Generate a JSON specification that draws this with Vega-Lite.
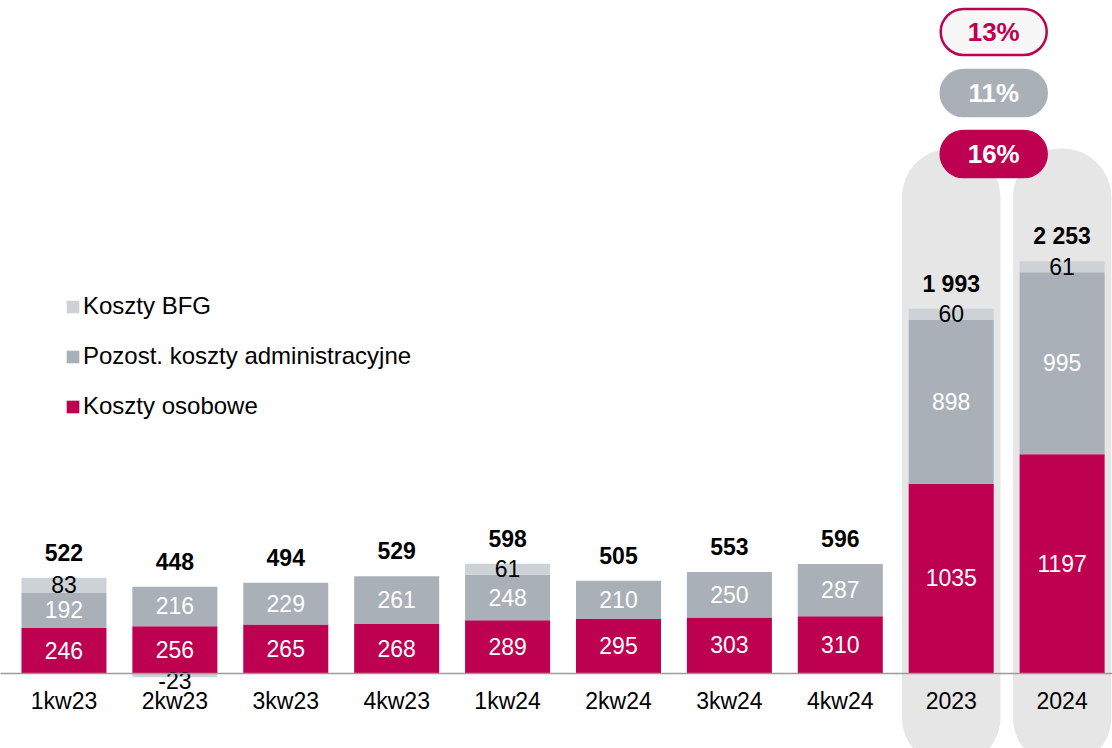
{
  "$schema": "https://vega.github.io/schema/vega-lite/v6.json",
  "width": 1112,
  "height": 673,
  "autosize": {"type": "none"},
  "padding": {"top": 0, "left": 0, "right": 0, "bottom": 75},
  "background": "white",
  "config": {"font": "Liberation Sans", "view": {"stroke": null}},
  "datasets": {
    "koszty": [
      {"cat": "1kw23", "seria": "Koszty osobowe", "ord": 1, "value": 246},
      {"cat": "1kw23", "seria": "Pozost. koszty administracyjne", "ord": 2, "value": 192},
      {"cat": "1kw23", "seria": "Koszty BFG", "ord": 3, "value": 83},
      {"cat": "2kw23", "seria": "Koszty osobowe", "ord": 1, "value": 256},
      {"cat": "2kw23", "seria": "Pozost. koszty administracyjne", "ord": 2, "value": 216},
      {"cat": "2kw23", "seria": "Koszty BFG", "ord": 3, "value": -23},
      {"cat": "3kw23", "seria": "Koszty osobowe", "ord": 1, "value": 265},
      {"cat": "3kw23", "seria": "Pozost. koszty administracyjne", "ord": 2, "value": 229},
      {"cat": "4kw23", "seria": "Koszty osobowe", "ord": 1, "value": 268},
      {"cat": "4kw23", "seria": "Pozost. koszty administracyjne", "ord": 2, "value": 261},
      {"cat": "1kw24", "seria": "Koszty osobowe", "ord": 1, "value": 289},
      {"cat": "1kw24", "seria": "Pozost. koszty administracyjne", "ord": 2, "value": 248},
      {"cat": "1kw24", "seria": "Koszty BFG", "ord": 3, "value": 61},
      {"cat": "2kw24", "seria": "Koszty osobowe", "ord": 1, "value": 295},
      {"cat": "2kw24", "seria": "Pozost. koszty administracyjne", "ord": 2, "value": 210},
      {"cat": "3kw24", "seria": "Koszty osobowe", "ord": 1, "value": 303},
      {"cat": "3kw24", "seria": "Pozost. koszty administracyjne", "ord": 2, "value": 250},
      {"cat": "4kw24", "seria": "Koszty osobowe", "ord": 1, "value": 310},
      {"cat": "4kw24", "seria": "Pozost. koszty administracyjne", "ord": 2, "value": 287},
      {"cat": "2023", "seria": "Koszty osobowe", "ord": 1, "value": 1035},
      {"cat": "2023", "seria": "Pozost. koszty administracyjne", "ord": 2, "value": 898},
      {"cat": "2023", "seria": "Koszty BFG", "ord": 3, "value": 60},
      {"cat": "2024", "seria": "Koszty osobowe", "ord": 1, "value": 1197},
      {"cat": "2024", "seria": "Pozost. koszty administracyjne", "ord": 2, "value": 995},
      {"cat": "2024", "seria": "Koszty BFG", "ord": 3, "value": 61}
    ],
    "sumy": [
      {"cat": "1kw23", "etykieta": "522"},
      {"cat": "2kw23", "etykieta": "448"},
      {"cat": "3kw23", "etykieta": "494"},
      {"cat": "4kw23", "etykieta": "529"},
      {"cat": "1kw24", "etykieta": "598"},
      {"cat": "2kw24", "etykieta": "505"},
      {"cat": "3kw24", "etykieta": "553"},
      {"cat": "4kw24", "etykieta": "596"},
      {"cat": "2023", "etykieta": "1 993"},
      {"cat": "2024", "etykieta": "2 253"}
    ],
    "tla": [
      {"cat": "2023", "gora": 2870, "dol": -510},
      {"cat": "2024", "gora": 2870, "dol": -510}
    ],
    "dynamika": [
      {"cat": "2023", "seria": "Razem", "etykieta": "13%", "poziom": 3507},
      {"cat": "2023", "seria": "Pozost. koszty administracyjne", "etykieta": "11%", "poziom": 3173},
      {"cat": "2023", "seria": "Koszty osobowe", "etykieta": "16%", "poziom": 2839}
    ]
  },
  "layer": [
    {
      "data": {"name": "tla"},
      "mark": {"type": "bar", "color": "#E6E6E6", "cornerRadius": 49, "width": {"band": 1.158}, "clip": false},
      "encoding": {
        "x": {
          "field": "cat",
          "type": "nominal",
          "scale": {
            "domain": ["1kw23", "2kw23", "3kw23", "4kw23", "1kw24", "2kw24", "3kw24", "4kw24", "2023", "2024"],
            "paddingInner": 0.2335,
            "paddingOuter": 0.13,
            "align": 0.744
          },
          "axis": {
            "orient": "bottom",
            "title": null,
            "ticks": false,
            "grid": false,
            "labelAngle": 0,
            "labelFontSize": 23,
            "labelColor": "#000000",
            "labelPadding": 17,
            "domainColor": "#9b9b9b",
            "domainWidth": 1.5,
            "zindex": 1
          }
        },
        "y": {"field": "gora", "type": "quantitative", "scale": {"domain": [0, 3682], "nice": false, "zero": false}, "axis": null},
        "y2": {"field": "dol"}
      }
    },
    {
      "data": {"name": "koszty"},
      "mark": {"type": "bar"},
      "encoding": {
        "x": {"field": "cat", "type": "nominal"},
        "y": {"field": "value", "type": "quantitative", "stack": "zero"},
        "color": {
          "field": "seria",
          "type": "nominal",
          "scale": {
            "domain": ["Koszty BFG", "Pozost. koszty administracyjne", "Koszty osobowe"],
            "range": ["#CDD2D7", "#A9B0B7", "#BE0050"]
          },
          "legend": {
            "orient": "none",
            "legendX": 61,
            "legendY": 295,
            "title": null,
            "padding": 0,
            "symbolType": "square",
            "symbolSize": 160,
            "symbolStrokeWidth": 0,
            "labelFontSize": 24,
            "labelColor": "#000000",
            "labelOffset": -2,
            "labelLimit": 600,
            "rowPadding": 26
          }
        },
        "order": {"field": "ord", "type": "quantitative"}
      }
    },
    {
      "data": {"name": "koszty"},
      "transform": [{"filter": "datum.value > 0"}],
      "mark": {"type": "text", "fontSize": 23, "baseline": "alphabetic", "align": "center", "dy": 8},
      "encoding": {
        "x": {"field": "cat", "type": "nominal"},
        "y": {"field": "value", "type": "quantitative", "stack": "zero", "bandPosition": 0.5},
        "detail": {"field": "seria", "type": "nominal"},
        "text": {"field": "value", "type": "nominal"},
        "color": {"condition": {"test": "datum.seria === 'Koszty BFG'", "value": "#000000"}, "value": "#FFFFFF"},
        "order": {"field": "ord", "type": "quantitative"}
      }
    },
    {
      "data": {"name": "koszty"},
      "transform": [{"filter": "datum.value < 0"}],
      "mark": {"type": "text", "fontSize": 23, "baseline": "alphabetic", "align": "center", "dy": 12, "color": "#000000"},
      "encoding": {
        "x": {"field": "cat", "type": "nominal"},
        "y": {"field": "value", "type": "quantitative", "stack": null},
        "text": {"field": "value", "type": "nominal"}
      }
    },
    {
      "data": {"name": "koszty"},
      "transform": [
        {"filter": "datum.value > 0"},
        {"aggregate": [{"op": "sum", "field": "value", "as": "gora"}], "groupby": ["cat"]},
        {"lookup": "cat", "from": {"data": {"name": "sumy"}, "key": "cat", "fields": ["etykieta"]}}
      ],
      "mark": {"type": "text", "fontSize": 23, "fontWeight": "bold", "baseline": "alphabetic", "align": "center", "dy": -17, "color": "#000000"},
      "encoding": {
        "x": {"field": "cat", "type": "nominal"},
        "y": {"field": "gora", "type": "quantitative"},
        "text": {"field": "etykieta", "type": "nominal"}
      }
    },
    {
      "data": {"name": "dynamika"},
      "mark": {
        "type": "point",
        "filled": true,
        "opacity": 1,
        "size": 11236,
        "strokeWidth": 2.5,
        "shape": "M -0.566 -0.434 L 0.566 -0.434 A 0.434 0.434 0 0 1 0.566 0.434 L -0.566 0.434 A 0.434 0.434 0 0 1 -0.566 -0.434 Z"
      },
      "encoding": {
        "x": {"field": "cat", "type": "nominal", "bandPosition": 1},
        "y": {"field": "poziom", "type": "quantitative"},
        "fill": {
          "condition": [
            {"test": "datum.seria === 'Razem'", "value": "#F7F7F7"},
            {"test": "datum.seria === 'Koszty osobowe'", "value": "#BE0050"}
          ],
          "value": "#A9B0B7"
        },
        "stroke": {
          "condition": [
            {"test": "datum.seria === 'Razem'", "value": "#BE0050"},
            {"test": "datum.seria === 'Koszty osobowe'", "value": "#BE0050"}
          ],
          "value": "#A9B0B7"
        }
      }
    },
    {
      "data": {"name": "dynamika"},
      "mark": {"type": "text", "fontSize": 26, "fontWeight": "bold", "baseline": "alphabetic", "align": "center", "dy": 9},
      "encoding": {
        "x": {"field": "cat", "type": "nominal", "bandPosition": 1},
        "y": {"field": "poziom", "type": "quantitative"},
        "text": {"field": "etykieta", "type": "nominal"},
        "color": {"condition": {"test": "datum.seria === 'Razem'", "value": "#BE0050"}, "value": "#FFFFFF"}
      }
    }
  ]
}
